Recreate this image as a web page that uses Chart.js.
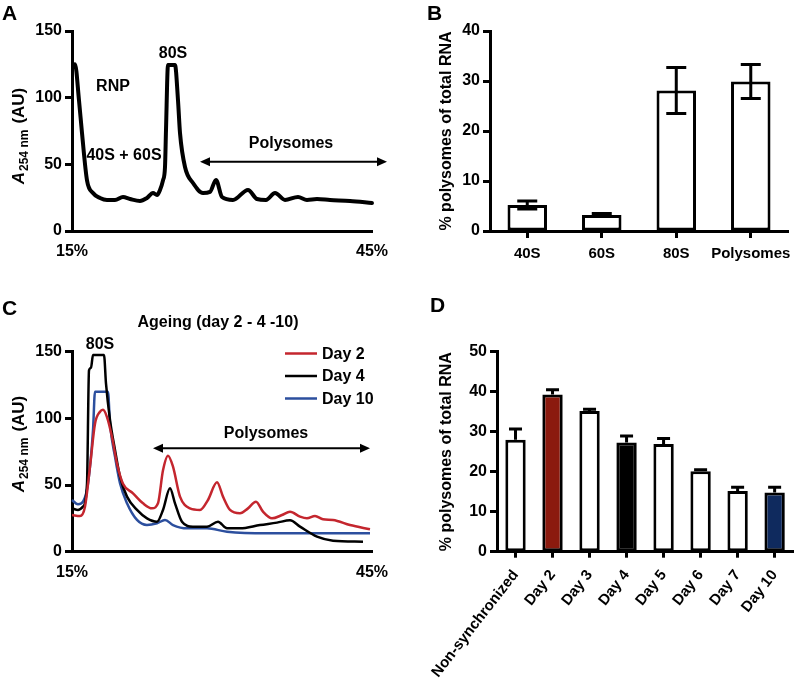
<!DOCTYPE html>
<html>
<head>
<meta charset="utf-8">
<script src="https://cdn.jsdelivr.net/npm/chart.js@4.4.1/dist/chart.umd.min.js"></script>
<style>
  html, body { margin: 0; padding: 0; background: #fff; }
  #wrap { position: relative; width: 798px; height: 687px; overflow: hidden; background: #fff; }
  canvas { position: absolute; }
</style>
</head>
<body>
<div id="wrap">
  <canvas id="cA" width="400" height="290" style="left:0;top:0"></canvas>
  <canvas id="cB" width="398" height="290" style="left:400px;top:0"></canvas>
  <canvas id="cC" width="400" height="397" style="left:0;top:290px"></canvas>
  <canvas id="cD" width="398" height="397" style="left:400px;top:290px"></canvas>
</div>
<script>
// ---------- DATA ----------
// Panel A: polysome profile (gradient % vs A254)
const profileX = [15.1,15.3,15.7,16.0,16.5,17.1,17.8,18.5,19.3,20.1,20.8,21.8,22.5,23.1,23.5,23.8,24.1,24.3,24.4,24.6,25.3,25.6,25.8,26.3,27.1,28.1,28.8,29.4,30.0,31.1,32.6,33.5,34.4,35.3,36.3,37.6,38.5,39.5,40.8,42.8,45];
const profileY = [124,125,98,73.5,38,28.5,24.8,23.3,23.3,25.5,24,22.5,24.8,28.5,27,30.8,38,48,75.8,124.5,124.5,98,73.5,48,36,28.5,29.3,38.3,25.5,23.3,30.8,24,23.3,28.5,23.3,25.5,23.3,24,23.3,22.5,21];
const gradientTickLabels = ['15%', '45%'];
const gradientTicks = [15, 45];

// Panel B
const fractionCategories = ['40S', '60S', '80S', 'Polysomes'];
const fractionValues = [5.2, 3.2, 28.1, 29.9];
const fractionErrors = [0.8, 0.3, 4.6, 3.4];

// Panel C: ageing profiles
const seriesNames = ['Day 2', 'Day 4', 'Day 10'];
const day2X = [15,15.8,16.3,16.8,17.3,17.8,18.1,18.5,19,19.5,20.1,21.1,22.1,23,23.6,24.1,24.6,25.1,25.8,26.8,27.8,28.6,29.5,30.1,30.8,31.8,32.6,33.4,34.1,35,36,36.8,37.8,38.5,39.3,40.1,41.1,42.8,44.8];
const day2Y = [27.5,26.8,33.8,63.8,96,105,106.5,101,86,66,51,43.8,36.3,32.5,36.3,61,72,63.8,41.3,32.5,31.3,38.8,52,41.3,31.3,28.8,32.5,37.5,30,25,27.5,30,26.3,25,26.8,24.3,23.8,20,16.8];
const day4X = [15,15.6,16.1,16.5,16.7,16.9,17.1,18.2,18.4,18.8,19.3,19.8,20.5,21.5,22.5,23.5,24.1,24.8,25.3,26,27.1,28.5,29.6,30.5,31.8,33.8,35.5,36.8,37.8,39.5,41.1,44.1];
const day4Y = [32.5,31.3,33.8,51,136,138,147.5,147.5,126,98.8,76.3,56.3,41.3,31.3,25,22.5,31.3,47.5,36.3,22.5,18.8,18.8,22.5,17.5,17.5,20,21.8,23.5,18.8,11.3,8.3,7.5];
const day10X = [15,15.6,16.1,16.6,17.1,17.3,18.6,18.8,19.3,19.8,20.5,21.5,22.5,23.5,24.3,25.1,26.5,28.5,30.5,34.5,44.8];
const day10Y = [38.8,35.5,37.5,51,91,120,120,96,71.3,51.3,36.3,23.8,20,21.3,23.8,20,17.5,17.5,15,13.8,13.8];

// Panel D
const dayCategories = ['Non-synchronized', 'Day 2', 'Day 3', 'Day 4', 'Day 5', 'Day 6', 'Day 7', 'Day 10'];
const dayValues = [28, 39.3, 35.2, 27.3, 26.9, 20.1, 15.2, 14.8];
const dayErrors = [2.7, 1.2, 0.4, 1.6, 1.4, 0.4, 0.9, 1.3];

// ---------- STYLE ----------
const FAM = '"Liberation Sans", Arial, Helvetica, sans-serif';
Chart.defaults.font.family = FAM;
Chart.defaults.color = '#000';
Chart.defaults.animation = false;

const RED_LINE = '#c4262e', BLUE_LINE = '#2c4f9e', BLACK = '#000';
const dayFills = ['#ffffff', '#8b1a0e', '#ffffff', '#000000', '#ffffff', '#ffffff', '#ffffff', '#0f2a5e'];

const tickFont = { size: 16, weight: 'bold' };
const catFont = { size: 15, weight: 'bold' };
const axisBorder = { display: true, color: '#000', width: 3 };
const yGrid = { display: true, drawOnChartArea: false, drawTicks: true, tickLength: 7, tickWidth: 3, tickColor: '#000' };
const xCatGrid = { display: true, offset: false, drawOnChartArea: false, drawTicks: true, tickLength: 7, tickWidth: 3, tickColor: '#000' };

function pts(xs, ys) { return xs.map((x, i) => ({ x: x, y: ys[i] })); }

// ---------- PLUGINS ----------
function panelLetter(letter, x, y) {
  return {
    id: 'letter' + letter,
    afterDraw(chart) {
      const ctx = chart.ctx;
      ctx.save();
      ctx.font = 'bold 21px ' + FAM;
      ctx.fillStyle = '#000';
      ctx.textAlign = 'left';
      ctx.textBaseline = 'alphabetic';
      ctx.fillText(letter, x, y);
      ctx.restore();
    }
  };
}

function absTitle(cx, cy) {
  return {
    id: 'absTitle',
    afterDraw(chart) {
      const ctx = chart.ctx;
      ctx.save();
      ctx.translate(cx, cy);
      ctx.rotate(-Math.PI / 2);
      ctx.fillStyle = '#000';
      ctx.textBaseline = 'alphabetic';
      ctx.textAlign = 'left';
      const f1 = 'italic bold 17px ' + FAM, f2 = 'bold 12px ' + FAM, f3 = 'bold 17px ' + FAM;
      ctx.font = f1; const w1 = ctx.measureText('A').width;
      ctx.font = f2; const w2 = ctx.measureText('254 nm').width;
      ctx.font = f3; const w3 = ctx.measureText('(AU)').width;
      const gap = 6;
      const total = w1 + 1 + w2 + gap + w3;
      let x = -total / 2;
      const base = 6;
      ctx.font = f1; ctx.fillText('A', x, base); x += w1 + 1;
      ctx.font = f2; ctx.fillText('254 nm', x, base + 4); x += w2 + gap;
      ctx.font = f3; ctx.fillText('(AU)', x, base);
      ctx.restore();
    }
  };
}

function drawArrow(ctx, x1, x2, y) {
  const hl = 10, hw = 4.5;
  ctx.save();
  ctx.strokeStyle = '#000';
  ctx.fillStyle = '#000';
  ctx.lineWidth = 2;
  ctx.beginPath();
  ctx.moveTo(x1 + 4, y); ctx.lineTo(x2 - 4, y); ctx.stroke();
  ctx.beginPath();
  ctx.moveTo(x1, y); ctx.lineTo(x1 + hl, y - hw); ctx.lineTo(x1 + hl, y + hw); ctx.closePath(); ctx.fill();
  ctx.beginPath();
  ctx.moveTo(x2, y); ctx.lineTo(x2 - hl, y - hw); ctx.lineTo(x2 - hl, y + hw); ctx.closePath(); ctx.fill();
  ctx.restore();
}

function annotations(texts, arrow) {
  return {
    id: 'annot',
    afterDraw(chart) {
      const ctx = chart.ctx, xs = chart.scales.x, ys = chart.scales.y;
      ctx.save();
      ctx.fillStyle = '#000';
      ctx.font = 'bold 16px ' + FAM;
      ctx.textAlign = 'center';
      ctx.textBaseline = 'middle';
      texts.forEach(t => ctx.fillText(t.text, xs.getPixelForValue(t.x), ys.getPixelForValue(t.y)));
      ctx.restore();
      if (arrow) drawArrow(ctx, xs.getPixelForValue(arrow.x1), xs.getPixelForValue(arrow.x2), ys.getPixelForValue(arrow.y));
    }
  };
}

function errorBars(errors, bothSides, capW) {
  return {
    id: 'errorBars',
    afterDatasetsDraw(chart) {
      const ctx = chart.ctx, ys = chart.scales.y;
      const meta = chart.getDatasetMeta(0);
      const vals = chart.data.datasets[0].data;
      ctx.save();
      ctx.strokeStyle = '#000';
      ctx.lineWidth = 3;
      meta.data.forEach((bar, i) => {
        const x = bar.x;
        const yHi = ys.getPixelForValue(vals[i] + errors[i]);
        const yLo = bothSides ? ys.getPixelForValue(vals[i] - errors[i]) : ys.getPixelForValue(vals[i]);
        ctx.beginPath();
        ctx.moveTo(x, yLo); ctx.lineTo(x, yHi);
        ctx.moveTo(x - capW / 2, yHi); ctx.lineTo(x + capW / 2, yHi);
        if (bothSides) { ctx.moveTo(x - capW / 2, yLo); ctx.lineTo(x + capW / 2, yLo); }
        ctx.stroke();
      });
      ctx.restore();
    }
  };
}

function plotTitle(text, x, y) {
  return {
    id: 'plotTitle',
    afterDraw(chart) {
      const ctx = chart.ctx;
      ctx.save();
      ctx.font = 'bold 16px ' + FAM;
      ctx.fillStyle = '#000';
      ctx.textAlign = 'center';
      ctx.textBaseline = 'middle';
      ctx.fillText(text, x, y);
      ctx.restore();
    }
  };
}

function lineLegend(x0, y0, rowH) {
  return {
    id: 'lineLegend',
    afterDraw(chart) {
      const ctx = chart.ctx;
      ctx.save();
      ctx.font = 'bold 16px ' + FAM;
      ctx.textAlign = 'left';
      ctx.textBaseline = 'middle';
      chart.data.datasets.forEach((ds, i) => {
        const y = y0 + i * rowH;
        ctx.strokeStyle = ds.borderColor;
        ctx.lineWidth = 2.5;
        ctx.beginPath(); ctx.moveTo(x0, y); ctx.lineTo(x0 + 32, y); ctx.stroke();
        ctx.fillStyle = '#000';
        ctx.fillText(ds.label, x0 + 37, y + 1);
      });
      ctx.restore();
    }
  };
}

function gradientXScale(height) {
  return {
    type: 'linear', min: 15, max: 45,
    afterBuildTicks: s => { s.ticks = gradientTicks.map(v => ({ value: v })); },
    ticks: { callback: (v, i) => gradientTickLabels[i], font: tickFont, padding: 3, maxRotation: 0, autoSkip: false },
    grid: { display: false },
    border: axisBorder,
    afterFit: s => { s.height = height; }
  };
}

function absYScale() {
  return {
    min: 0, max: 150,
    ticks: { stepSize: 50, font: tickFont, padding: 3 },
    grid: yGrid,
    border: axisBorder,
    afterFit: s => { s.width = 72; }
  };
}

const baseOpts = { responsive: false, animation: false, devicePixelRatio: 1 };

// ---------- PANEL A ----------
new Chart(document.getElementById('cA'), {
  type: 'line',
  data: {
    datasets: [{
      label: 'Profile',
      data: pts(profileX, profileY),
      borderColor: '#000', borderWidth: 4, pointRadius: 0,
      cubicInterpolationMode: 'monotone', clip: 8, borderJoinStyle: 'round', borderCapStyle: 'round'
    }]
  },
  options: Object.assign({}, baseOpts, {
    layout: { padding: { left: 0, right: 28, top: 31, bottom: 0 } },
    plugins: { legend: { display: false }, tooltip: { enabled: false } },
    scales: { x: gradientXScale(59), y: absYScale() }
  }),
  plugins: [
    panelLetter('A', 2, 20),
    absTitle(18, 136),
    annotations([
      { text: '80S', x: 25.1, y: 133 },
      { text: 'RNP', x: 19.1, y: 108 },
      { text: '40S + 60S', x: 20.2, y: 56.5 },
      { text: 'Polysomes', x: 36.9, y: 65.5 }
    ], { x1: 27.8, x2: 46.5, y: 52 })
  ]
});

// ---------- PANEL B ----------
new Chart(document.getElementById('cB'), {
  type: 'bar',
  data: {
    labels: fractionCategories,
    datasets: [{
      data: fractionValues,
      backgroundColor: '#fff', borderColor: '#000', borderWidth: 3, borderSkipped: false,
      barPercentage: 0.53, categoryPercentage: 1
    }]
  },
  options: Object.assign({}, baseOpts, {
    layout: { padding: { left: 0, right: 5, top: 31, bottom: 0 } },
    plugins: { legend: { display: false }, tooltip: { enabled: false } },
    scales: {
      x: {
        ticks: { font: catFont, padding: 7, maxRotation: 0, autoSkip: false },
        grid: xCatGrid, border: axisBorder,
        afterFit: s => { s.height = 59; }
      },
      y: {
        min: 0, max: 40,
        ticks: { stepSize: 10, font: tickFont, padding: 3 },
        grid: yGrid, border: axisBorder,
        title: { display: true, text: '% polysomes of total RNA', font: { size: 16, weight: 'bold' }, padding: { top: 37, bottom: 0 } },
        afterFit: s => { s.width = 90; }
      }
    }
  }),
  plugins: [panelLetter('B', 27, 20), errorBars(fractionErrors, true, 20)]
});

// ---------- PANEL C ----------
new Chart(document.getElementById('cC'), {
  type: 'line',
  data: {
    datasets: [
      { label: seriesNames[0], data: pts(day2X, day2Y), borderColor: RED_LINE, borderWidth: 2.5, pointRadius: 0, cubicInterpolationMode: 'monotone', clip: 8 },
      { label: seriesNames[1], data: pts(day4X, day4Y), borderColor: BLACK, borderWidth: 2.5, pointRadius: 0, cubicInterpolationMode: 'monotone', clip: 8 },
      { label: seriesNames[2], data: pts(day10X, day10Y), borderColor: BLUE_LINE, borderWidth: 2.5, pointRadius: 0, cubicInterpolationMode: 'monotone', clip: 8 }
    ]
  },
  options: Object.assign({}, baseOpts, {
    layout: { padding: { left: 0, right: 28, top: 61.7, bottom: 0 } },
    plugins: { legend: { display: false }, tooltip: { enabled: false } },
    scales: { x: gradientXScale(135.3), y: absYScale() }
  }),
  plugins: [
    panelLetter('C', 2, 25),
    absTitle(18, 154),
    plotTitle('Ageing (day 2 - 4 -10)', 218, 33),
    lineLegend(285, 63.5, 22.5),
    annotations([
      { text: '80S', x: 17.8, y: 155.5 },
      { text: 'Polysomes', x: 34.4, y: 88.5 }
    ], { x1: 23.1, x2: 44.8, y: 77.5 })
  ]
});

// ---------- PANEL D ----------
new Chart(document.getElementById('cD'), {
  type: 'bar',
  data: {
    labels: dayCategories,
    datasets: [{
      data: dayValues,
      backgroundColor: dayFills, borderColor: '#000', borderWidth: 3, borderSkipped: false,
      barPercentage: 0.55, categoryPercentage: 1
    }]
  },
  options: Object.assign({}, baseOpts, {
    layout: { padding: { left: 0, right: 3, top: 61.7, bottom: 0 } },
    plugins: { legend: { display: false }, tooltip: { enabled: false } },
    scales: {
      x: {
        ticks: { font: catFont, padding: 9, minRotation: 52, maxRotation: 52, autoSkip: false },
        grid: Object.assign({}, xCatGrid, { tickLength: 6 }), border: axisBorder,
        afterFit: s => { s.height = 135.3; }
      },
      y: {
        min: 0, max: 50,
        ticks: { stepSize: 10, font: tickFont, padding: 3 },
        grid: yGrid, border: axisBorder,
        title: { display: true, text: '% polysomes of total RNA', font: { size: 16, weight: 'bold' }, padding: { top: 37, bottom: 0 } },
        afterFit: s => { s.width = 97; }
      }
    }
  }),
  plugins: [panelLetter('D', 30, 22), errorBars(dayErrors, false, 13)]
});
</script>
</body>
</html>
